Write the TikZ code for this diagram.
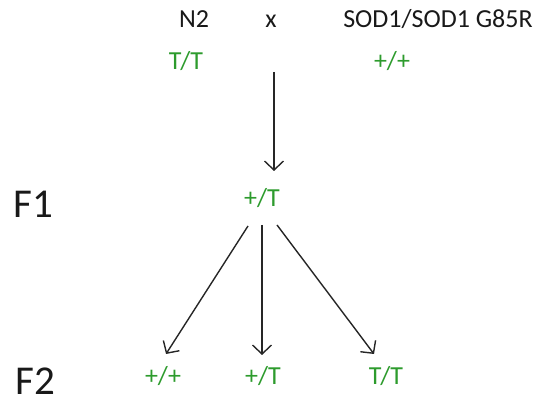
\documentclass[tikz,border=0pt]{standalone}
\usepackage{fontspec}
\setmainfont{Carlito}
\usetikzlibrary{arrows.meta}
\definecolor{genogreen}{RGB}{45,155,45}
\begin{document}
\begin{tikzpicture}[x=1pt,y=-1pt,
  lbl/.style={inner sep=0pt, anchor=base, font=\fontsize{26}{30}\selectfont, text=black!90},
  geno/.style={inner sep=0pt, anchor=base, font=\fontsize{26}{30}\selectfont, text=genogreen},
  gen/.style={inner sep=0pt, anchor=base, font=\fontsize{41}{47}\selectfont, text=black!90},
  cross/.style={draw=black!85, line width=1.4pt, -{Straight Barb[length=9pt,width=19pt,line width=1.4pt]}}]
  \useasboundingbox (0,0) rectangle (539,403);
  % parental line
  \node[lbl]  (n2)   at (194,28) {N2};
  \node[lbl]  (x)    at (271,28) {x};
  \node[lbl]  (sod)  at (438,28) {SOD1/SOD1 G85R};
  \node[geno] (pTT)  at (186,70) {T/T};
  \node[geno] (pPP)  at (392,70) {+/+};
  \coordinate (top) at (274,72);
  % F1
  \node[gen]  (f1)   at (33,218) {F1};
  \node[geno] (f1g)  at (262,207) {+/T};
  % F2
  \node[gen]  (f2)   at (35,395) {F2};
  \node[geno] (hPP)  at (163,385) {+/+};
  \node[geno] (hPT)  at (263,385) {+/T};
  \node[geno] (hTT)  at (386,385) {T/T};
  \coordinate (s1) at (248,226);
  \coordinate (s2) at (262,225);
  \coordinate (s3) at (277,225);
  % arrows
  \draw[cross] (top) -- (274,171) coordinate (f1top);
  \draw[cross] (s1) -- (166,354);
  \draw[cross] (s2) -- (262,355);
  \draw[cross] (s3) -- (374,354);
\end{tikzpicture}
\end{document}
